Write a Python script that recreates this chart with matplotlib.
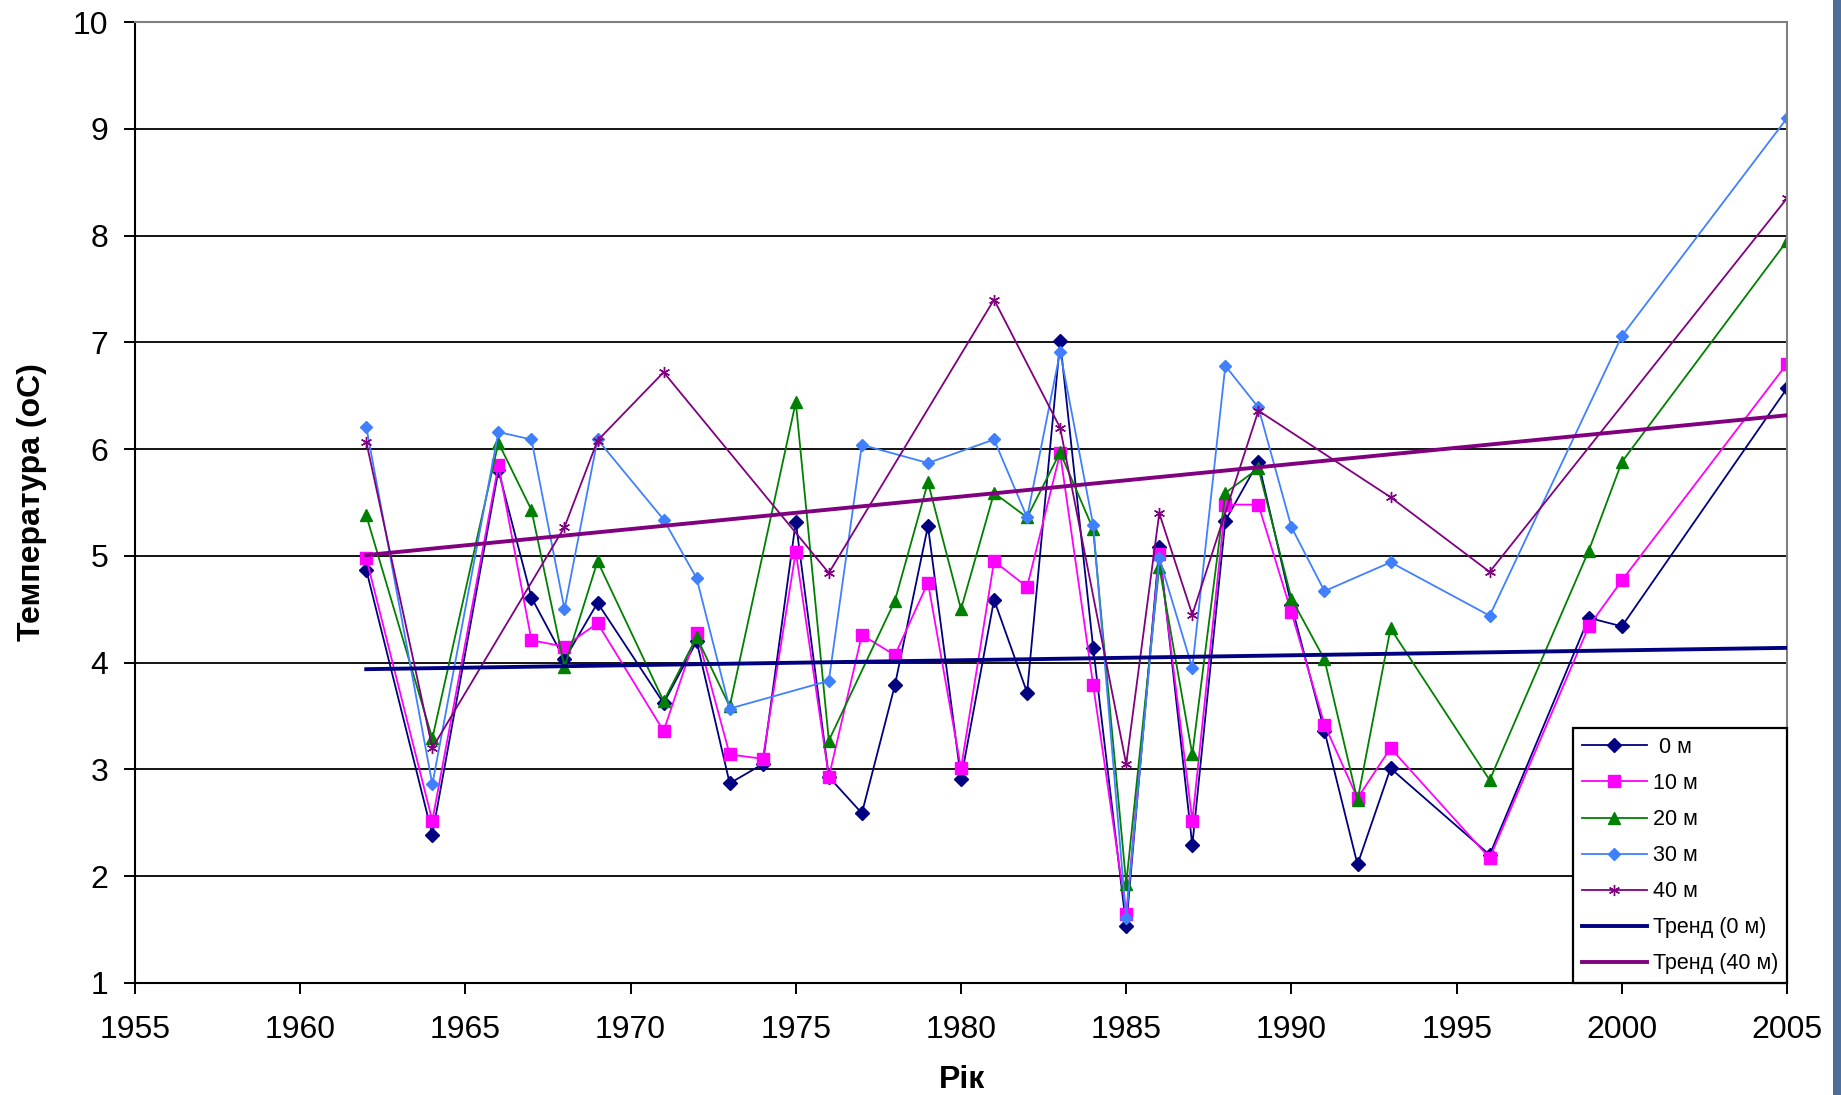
import matplotlib
matplotlib.use("Agg")
from matplotlib import pyplot as plt
from matplotlib.patches import Rectangle
import numpy as np

# depth series, water temperature by year
years_0 = [1962, 1964, 1966, 1967, 1968, 1969, 1971, 1972, 1973, 1974, 1975,
           1976, 1977, 1978, 1979, 1980, 1981, 1982, 1983, 1984, 1985, 1986,
           1987, 1988, 1989, 1990, 1991, 1992, 1993, 1996, 1999, 2000, 2005]
temp_0 = [4.87, 2.39, 5.80, 4.61, 4.03, 4.56, 3.62, 4.20, 2.87, 3.05, 5.32,
          2.93, 2.59, 3.79, 5.28, 2.91, 4.59, 3.72, 7.01, 4.14, 1.53, 5.08,
          2.29, 5.33, 5.88, 4.54, 3.36, 2.11, 3.01, 2.20, 4.42, 4.34, 6.57]

years_10 = years_0
temp_10 = [4.98, 2.52, 5.85, 4.21, 4.15, 4.37, 3.36, 4.28, 3.14, 3.10, 5.04,
           2.93, 4.26, 4.07, 4.75, 3.01, 4.95, 4.71, 5.96, 3.79, 1.65, 5.02,
           2.52, 5.48, 5.48, 4.47, 3.42, 2.73, 3.20, 2.17, 4.34, 4.77, 6.80]

years_20 = [1962, 1964, 1966, 1967, 1968, 1969, 1971, 1972, 1973, 1975, 1976,
            1978, 1979, 1980, 1981, 1982, 1983, 1984, 1985, 1986, 1987, 1988,
            1989, 1990, 1991, 1992, 1993, 1996, 1999, 2000, 2005]
temp_20 = [5.38, 3.29, 6.06, 5.43, 3.96, 4.95, 3.64, 4.24, 3.59, 6.44, 3.27,
           4.58, 5.69, 4.50, 5.59, 5.36, 5.97, 5.25, 1.93, 4.90, 3.14, 5.59,
           5.82, 4.60, 4.03, 2.71, 4.32, 2.90, 5.05, 5.88, 7.95]

years_30 = [1962, 1964, 1966, 1967, 1968, 1969, 1971, 1972, 1973, 1976, 1977,
            1979, 1981, 1982, 1983, 1984, 1985, 1986, 1987, 1988, 1989, 1990,
            1991, 1993, 1996, 2000, 2005]
temp_30 = [6.21, 2.86, 6.16, 6.09, 4.50, 6.09, 5.34, 4.79, 3.57, 3.83, 6.04,
           5.87, 6.09, 5.36, 6.91, 5.29, 1.61, 4.98, 3.95, 6.78, 6.39, 5.27,
           4.67, 4.94, 4.44, 7.06, 9.10]

years_40 = [1962, 1964, 1968, 1969, 1971, 1976, 1981, 1983, 1985, 1986, 1987,
            1989, 1993, 1996, 2005]
temp_40 = [6.07, 3.20, 5.27, 6.08, 6.72, 4.84, 7.40, 6.20, 3.05, 5.40, 4.45,
           6.36, 5.55, 4.85, 8.35]

labels = [" 0 м", "10 м", "20 м", "30 м", "40 м"]
x_ticks = [1955, 1960, 1965, 1970, 1975, 1980, 1985, 1990, 1995, 2000, 2005]
y_ticks = [1, 2, 3, 4, 5, 6, 7, 8, 9, 10]

plt.rcParams['font.family'] = ['Liberation Sans', 'DejaVu Sans']

fig = plt.figure(figsize=(18.41, 10.95), dpi=100)
ax = fig.add_axes([0.0733, 0.1023, 0.8974, 0.8776])

# blue strip at the right edge (slide background)
fig.patches.append(Rectangle((0.9957, 0), 0.0043, 1, transform=fig.transFigure,
                             facecolor="#4d6e97", edgecolor="none"))

styles = [
    dict(color="#000080", marker="D", ms=7),
    dict(color="#FF00FF", marker="s", ms=8.5),
    dict(color="#008000", marker="^", ms=9),
    dict(color="#4080FF", marker="D", ms=6),
    dict(color="#800080", marker=(6, 2, 0), ms=8, mew=1.0),
]
series = [(years_0, temp_0), (years_10, temp_10), (years_20, temp_20),
          (years_30, temp_30), (years_40, temp_40)]

for (xs, ys), st, lab in zip(series, styles, labels):
    ax.plot(xs, ys, lw=1.3, label=lab, **st)

# linear trends
for (xs, ys), col, lab in [((years_0, temp_0), "#000080", "Тренд (0 м)"),
                           ((years_40, temp_40), "#800080", "Тренд (40 м)")]:
    k, b = np.polyfit(xs, ys, 1)
    xx = np.array([min(xs), max(xs)])
    ax.plot(xx, k * xx + b, color=col, lw=2.8, label=lab, zorder=3)

ax.set_xlim(1955, 2005)
ax.set_ylim(1, 10)
ax.set_xticks(x_ticks)
ax.set_yticks(y_ticks)
ax.yaxis.grid(True, color="black", lw=1.3)
ax.set_axisbelow(True)

for s in ["left", "bottom"]:
    ax.spines[s].set_color("black")
    ax.spines[s].set_linewidth(1.5)
for s in ["top", "right"]:
    ax.spines[s].set_color("#808080")
    ax.spines[s].set_linewidth(1.5)

ax.tick_params(axis="both", direction="out", length=8, width=1.4,
               labelsize=23, colors="black")
ax.tick_params(axis="x", pad=15)
ax.tick_params(axis="y", pad=11)

ax.set_xlabel("Рік", fontsize=23, fontweight="bold")
ax.set_ylabel("Температура (оС)", fontsize=23, fontweight="bold")
ax.xaxis.set_label_coords(0.5006, -0.085)
ax.yaxis.set_label_coords(-0.053, 0.5)

leg = ax.legend(loc="lower right", bbox_to_anchor=(1.0, 0.0), borderaxespad=0,
                fontsize=15.5, handlelength=3.0, handletextpad=0.3,
                labelspacing=0.7, borderpad=0.4, fancybox=False,
                framealpha=1, edgecolor="black")
leg.get_frame().set_linewidth(1.6)

fig.savefig("out.png", dpi=100, facecolor="white")
